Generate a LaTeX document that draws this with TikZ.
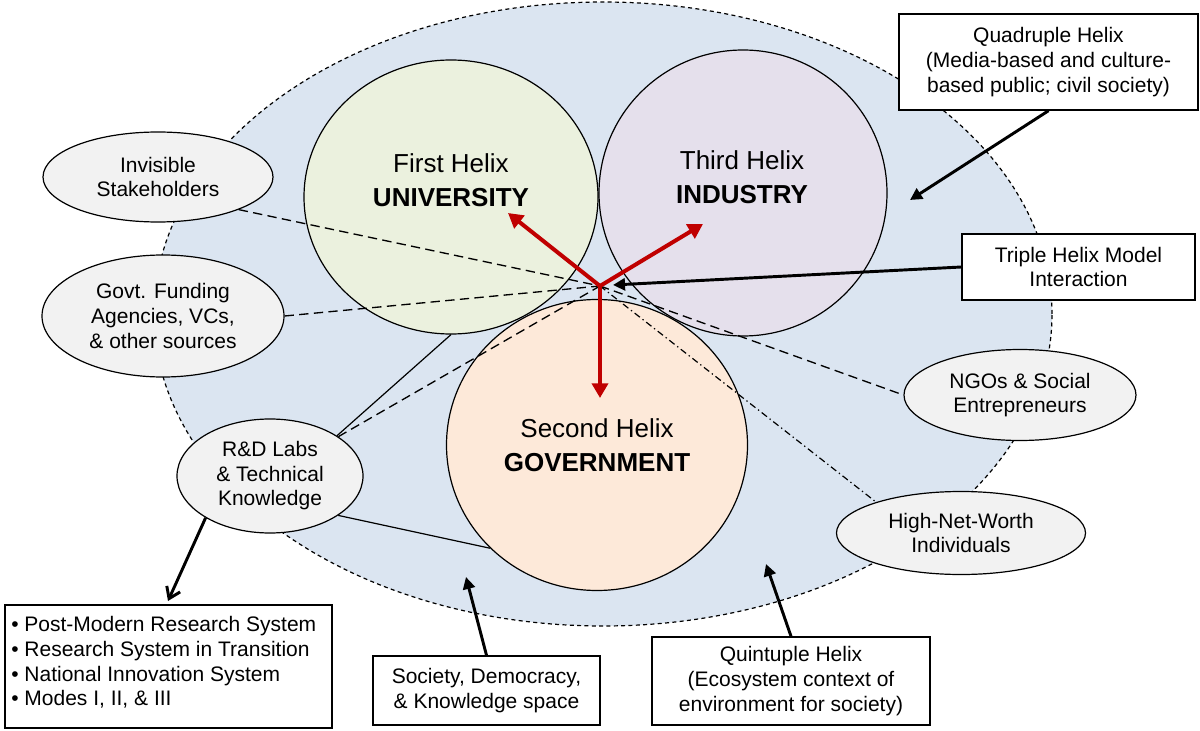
\documentclass[tikz,border=0pt]{standalone}
\usepackage{fontspec}
\setmainfont{Liberation Sans}
\usetikzlibrary{shapes.geometric,arrows.meta}
\definecolor{bgblue}{HTML}{DBE5F1}
\definecolor{unigreen}{HTML}{EBF1DE}
\definecolor{indpurple}{HTML}{E5E0EC}
\definecolor{govorange}{HTML}{FDE9D9}
\definecolor{satgray}{HTML}{F2F2F2}
\definecolor{helixred}{HTML}{C00000}
\begin{document}
\begin{tikzpicture}[x=0.75pt,y=-0.75pt,
  helix/.style={ellipse,draw=black,line width=0.9pt,inner sep=0pt},
  sat/.style={ellipse,draw=black,line width=0.9pt,fill=satgray,inner sep=0pt,align=center,font=\fontsize{15.75}{18.4}\selectfont},
  infobox/.style={rectangle,draw=black,line width=1.1pt,fill=white,inner sep=0pt,align=center,font=\fontsize{15.75}{18.6}\selectfont},
  helixtext/.style={align=center,inner sep=0pt,font=\fontsize{19.5}{25.5}\selectfont},
  dashlink/.style={line width=1pt,dash pattern=on 7pt off 4pt},
  dotlink/.style={line width=0.9pt,dash pattern=on 5pt off 2.5pt on 1pt off 2.5pt},
  solidlink/.style={line width=0.9pt},
  redarrow/.style={draw=helixred,line width=3pt,-{Triangle[length=11pt,width=12pt]}},
  blackarrow/.style={line width=2.2pt,-{Triangle[length=9pt,width=9pt]}},
]
\useasboundingbox (0,0) rectangle (1200,731);
\fill[white] (0,0) rectangle (1200,731);
% knowledge space
\node[ellipse,draw=black,line width=0.9pt,dash pattern=on 3pt off 2.5pt,fill=bgblue,
      minimum width=673.5pt,minimum height=468pt,inner sep=0pt] (space) at (603,314) {};
% helices
\node[helix,fill=unigreen,minimum width=220.5pt,minimum height=205.5pt] (uni) at (451,197) {};
\node[helix,fill=indpurple,minimum width=216pt,minimum height=214.5pt] (ind) at (743,193) {};
\node[helix,fill=govorange,minimum width=225.75pt,minimum height=218.25pt] (gov) at (597,445) {};
\node[helixtext] (unitext) at (451,180.5) {First Helix\\\textbf{UNIVERSITY}};
\node[helixtext] (indtext) at (742,177) {Third Helix\\\textbf{INDUSTRY}};
\node[helixtext] (govtext) at (597,445) {Second Helix\\\textbf{GOVERNMENT}};
% stakeholders
\node[sat,minimum width=172.5pt,minimum height=67.5pt] (inv) at (158,177) {Invisible\\Stakeholders};
\node[sat,minimum width=181.5pt,minimum height=91.5pt] (gf) at (163,316) {Govt. Funding\\Agencies, VCs,\\\& other sources};
\node[sat,minimum width=139.5pt,minimum height=85.5pt] (rd) at (270,476) {R\&D Labs\\\& Technical\\Knowledge};
\node[sat,minimum width=174pt,minimum height=68.25pt] (ngo) at (1020,395) {NGOs \& Social\\Entrepreneurs};
\node[sat,minimum width=186.75pt,minimum height=62.25pt] (hnw) at (961,533) {High-Net-Worth\\Individuals};
% links
\coordinate (hub) at (600,286);
\draw[dashlink] (inv.-22) -- (hub);
\draw[dashlink] (gf.east) -- (hub);
\draw[dashlink] (rd) -- (hub);
\draw[dashlink] (hub) -- (ngo.west);
\draw[dotlink] (hub) -- (hnw.160);
\draw[solidlink] (rd.31) -- (uni.south);
\draw[solidlink] (rd.-30) -- (gov.224);
% red arrows
\coordinate (tipuni) at (508,213);
\coordinate (tipind) at (703,224);
\coordinate (tipgov) at (600,398);
\draw[redarrow] (hub) -- (tipuni);
\draw[redarrow] (hub) -- (tipind);
\draw[redarrow] (hub) -- (tipgov);
% boxes
\node[infobox,minimum width=224.25pt,minimum height=72pt] (qh) at (1048.5,62) {Quadruple Helix\\(Media-based and culture-\\based public; civil society)};
\node[infobox,minimum width=174.75pt,minimum height=49.5pt] (th) at (1078.5,267) {Triple Helix Model\\Interaction};
\node[infobox,minimum width=245.25pt,minimum height=92.25pt] (pm) at (168.5,666.5) {};
\node[anchor=north west,align=left,inner sep=0pt,font=\fontsize{15.75}{18.6}\selectfont] (pmtext) at (11,616)
  {• Post-Modern Research System\\• Research System in Transition\\• National Innovation System\\• Modes I, II, \& III};
\node[infobox,minimum width=170.25pt,minimum height=51.75pt] (soc) at (486.5,690.5) {Society, Democracy,\\\& Knowledge space};
\node[infobox,minimum width=208.5pt,minimum height=66pt] (qt) at (791,681) {Quintuple Helix\\(Ecosystem context of\\environment for society)};
% black arrows
\coordinate (qtip) at (910,200);
\coordinate (ttip) at (613,285);
\coordinate (pmtip) at (168,601);
\coordinate (stip) at (466,577);
\coordinate (qttip) at (766,564);
\draw[blackarrow] (qh.south) -- (qtip);
\draw[blackarrow] (th.west) -- (ttip);
\draw[line width=2.2pt,-{Straight Barb[length=8pt,width=11pt]}] (rd.213) -- (pmtip);
\draw[blackarrow] (soc.north) -- (stip);
\draw[blackarrow] (qt.north) -- (qttip);
\end{tikzpicture}
\end{document}
